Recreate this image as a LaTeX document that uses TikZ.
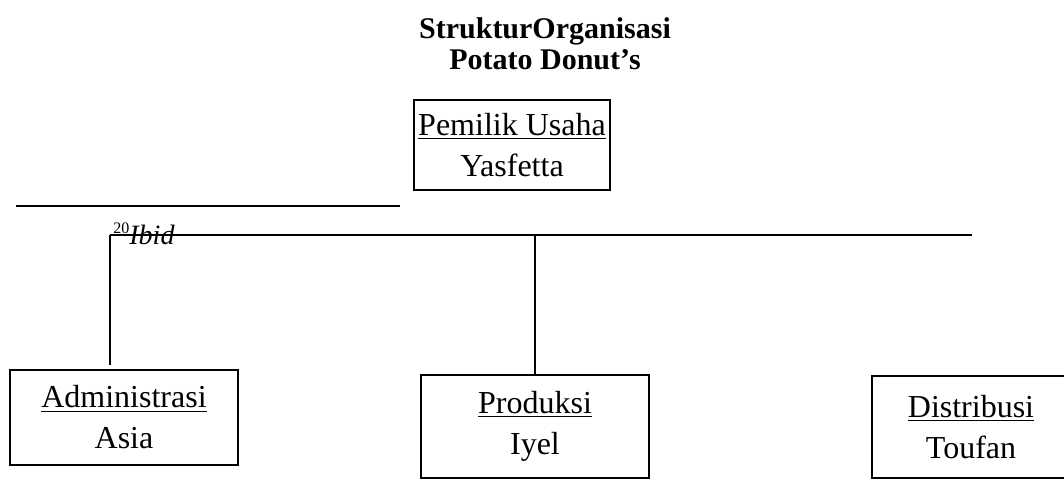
\documentclass[tikz,border=0pt]{standalone}
\usepackage{fontspec}
\setmainfont{Liberation Serif}
\usetikzlibrary{positioning}

\begin{document}
\begin{tikzpicture}[x=0.5pt,y=-0.5pt,
    unit/.style={rectangle, draw, line width=0.75pt, align=center, font=\fontsize{16}{20.5}\selectfont, inner sep=0pt},
    link/.style={line width=0.65pt}]
    \useasboundingbox (0,0) rectangle (1064,480);

    % Title
    \node[align=center, font=\fontsize{15}{15.5}\selectfont\bfseries] (title) at (545,44) {StrukturOrganisasi\\Potato Donut's};

    % Owner
    \node[unit, minimum width=98pt, minimum height=45pt] (owner) at (512,145) {\underline{Pemilik Usaha}\\Yasfetta};

    % Divisions
    \node[unit, minimum width=114pt, minimum height=47.5pt] (admin) at (124,417.5) {\underline{Administrasi}\\Asia};
    \node[unit, minimum width=114pt, minimum height=51.5pt] (prod) at (535,426.5) {\underline{Produksi}\\Iyel};
    \node[unit, minimum width=99pt, minimum height=51pt] (dist) at (971,427) {\underline{Distribusi}\\Toufan};

    % Footnote rule and note
    \coordinate (rule_a) at (16,206);
    \coordinate (rule_b) at (400,206);
    \draw[line width=1pt] (rule_a) -- (rule_b);
    \node[anchor=base west, inner sep=0pt, font=\fontsize{14}{16}\selectfont] (ibid) at (113,245) {\raisebox{5.5pt}{\fontsize{8}{8}\selectfont 20}\textit{Ibid}};

    % Lines
    \coordinate (bar_a) at (110,235);
    \coordinate (bar_b) at (972,235);
    \coordinate (admin_top) at (110,365);
    \draw[link] (bar_a) -- (bar_b);
    \draw[link] (bar_a) -- (admin_top);
    \draw[link] (prod.north |- bar_a) -- (prod.north);
\end{tikzpicture}
\end{document}
